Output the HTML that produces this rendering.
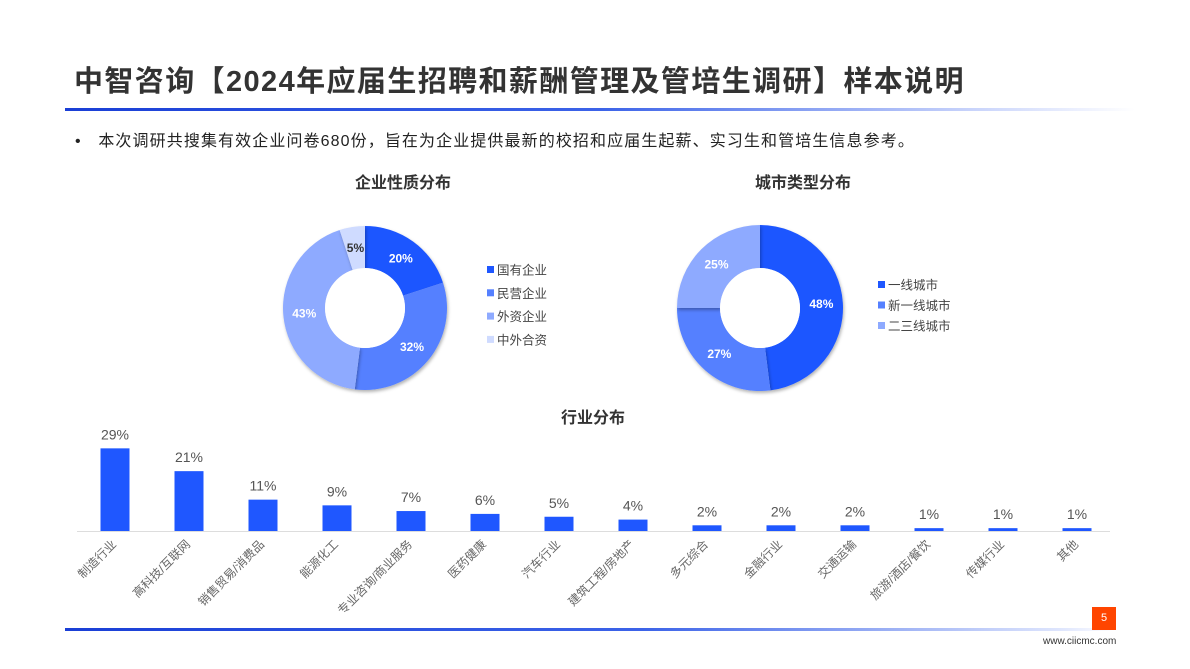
<!DOCTYPE html>
<html><head><meta charset="utf-8">
<style>
body{margin:0;width:1190px;height:669px;background:#fff;overflow:hidden;font-family:"Liberation Sans","Noto Sans CJK SC",sans-serif;position:relative}
.abs{position:absolute}
</style></head><body>
<div class="abs" style="left:74px;top:58px;font-size:29px;font-weight:bold;color:#333;white-space:nowrap;letter-spacing:1.4px">中智咨询【2024年应届生招聘和薪酬管理及管培生调研】样本说明</div>
<div class="abs" style="left:65px;top:108px;width:1070px;height:3px;background:linear-gradient(90deg,#1a3fd6 0%,#3c63e8 50%,#c9d4fb 85%,#fff 100%)"></div>
<div class="abs" style="left:75px;top:127px;font-size:16px;color:#222;white-space:nowrap;letter-spacing:1.1px">•&nbsp;&nbsp;&nbsp;本次调研共搜集有效企业问卷680份，旨在为企业提供最新的校招和应届生起薪、实习生和管培生信息参考。</div>
<svg class="abs" style="left:0;top:0" width="1190" height="669">
<defs><filter id="sh" x="-20%" y="-20%" width="140%" height="140%"><feDropShadow dx="1" dy="2" stdDeviation="1.5" flood-color="#000" flood-opacity="0.3"/></filter></defs>
<g id="d1"></g>
<g id="d2"></g>
<g id="bars"></g>
<text x="403" y="188" text-anchor="middle" font-size="16" font-weight="bold" fill="#333">企业性质分布</text>
<text x="803" y="188" text-anchor="middle" font-size="16" font-weight="bold" fill="#333">城市类型分布</text>
<text x="593" y="423" text-anchor="middle" font-size="16" font-weight="bold" fill="#333">行业分布</text>
</svg>
<div class="abs" style="left:65px;top:628px;width:1050px;height:3px;background:linear-gradient(90deg,#1a3fd6 0%,#3c63e8 55%,#dfe6fd 95%,#fff 100%)"></div>
<div class="abs" style="left:1092px;top:607px;width:24px;height:23px;background:#ff4500;color:#fff;font-size:11px;text-align:center;line-height:23px">5</div>
<div class="abs" style="left:1043px;top:636px;font-size:10px;color:#333">www.ciicmc.com</div>
<script>
const ownCats=["国有企业","民营企业","外资企业","中外合资"];
const ownVals=[20,32,43,5];
const cityCats=["一线城市","新一线城市","二三线城市"];
const cityVals=[48,27,25];
const indCats=["制造行业","高科技/互联网","销售贸易/消费品","能源化工","专业咨询/商业服务","医药健康","汽车行业","建筑工程/房地产","多元综合","金融行业","交通运输","旅游/酒店/餐饮","传媒行业","其他"];
const indVals=[29,21,11,9,7,6,5,4,2,2,2,1,1,1];
const colors=["#1f57ff","#5580ff","#8eaaff","#cfdbff"];
const NS="http://www.w3.org/2000/svg";
function mk(t,a,p){const e=document.createElementNS(NS,t);for(const k in a)e.setAttribute(k,a[k]);p.appendChild(e);return e;}
function donut(g,cx,cy,R,r,cats,vals,lx,ly,lgap,names){
  const tot=vals.reduce((a,b)=>a+b,0);let a0=0;
  vals.forEach((v,i)=>{
    const a1=a0+v/tot*2*Math.PI;
    const p=(a,rad)=>[cx+rad*Math.sin(a),cy-rad*Math.cos(a)];
    const [x0,y0]=p(a0,R),[x1,y1]=p(a1,R),[x2,y2]=p(a1,r),[x3,y3]=p(a0,r);
    const lg=(a1-a0)>Math.PI?1:0;
    const s=mk('path',{d:`M${x0},${y0}A${R},${R} 0 ${lg} 1 ${x1},${y1}L${x2},${y2}A${r},${r} 0 ${lg} 0 ${x3},${y3}Z`,fill:colors[i],filter:'url(#sh)'},g);
    
    
    const [tx,ty]=p((a0+a1)/2,(R+r)/2);
    const t=mk('text',{x:tx,y:ty+4,'text-anchor':'middle','font-size':12,'font-weight':'bold',fill:i==3?'#333':'#fff'},g);
    t.textContent=v+'%';
    
    
    const sq=mk('rect',{x:lx,y:ly+i*lgap-4,width:7,height:7,fill:colors[i]},g);
    
    
    const lt=mk('text',{x:lx+10,y:ly+i*lgap+4.5,'font-size':12.5,fill:'#444'},g);
    lt.textContent=cats[i];
    
    
    a0=a1;
  });
  mk('circle',{cx,cy,r:r,fill:'#fff'},g);
}
donut(document.getElementById('d1'),365,308,82,40,ownCats,ownVals,487,270,23.3,'ownership');
donut(document.getElementById('d2'),760,308,83,40,cityCats,cityVals,878,285,20.5,'city');
const bg=document.getElementById('bars');
const base=531,pxPer=2.85,x0=115,step=74,bw=29;
const xs=i=>x0+i*step, ys=v=>base-v*pxPer;
const ax=mk('line',{x1:77,y1:base+0.5,x2:1110,y2:base+0.5,stroke:'#ddd','stroke-width':1},bg);


indVals.forEach((v,i)=>{
  const b=mk('rect',{x:xs(i)-bw/2,y:ys(v),width:bw,height:base-ys(v),fill:'#1f57ff'},bg);
  
  
  const t=mk('text',{x:xs(i),y:ys(v)-9,'text-anchor':'middle','font-size':14,fill:'#555'},bg);
  t.textContent=v+'%';
  
  
  const c=mk('text',{x:xs(i)+2,y:base+14,'text-anchor':'end','font-size':12,fill:'#666',transform:`rotate(-45 ${xs(i)+2} ${base+14})`},bg);
  c.textContent=indCats[i];
  
  
});
</script>
</body></html>
